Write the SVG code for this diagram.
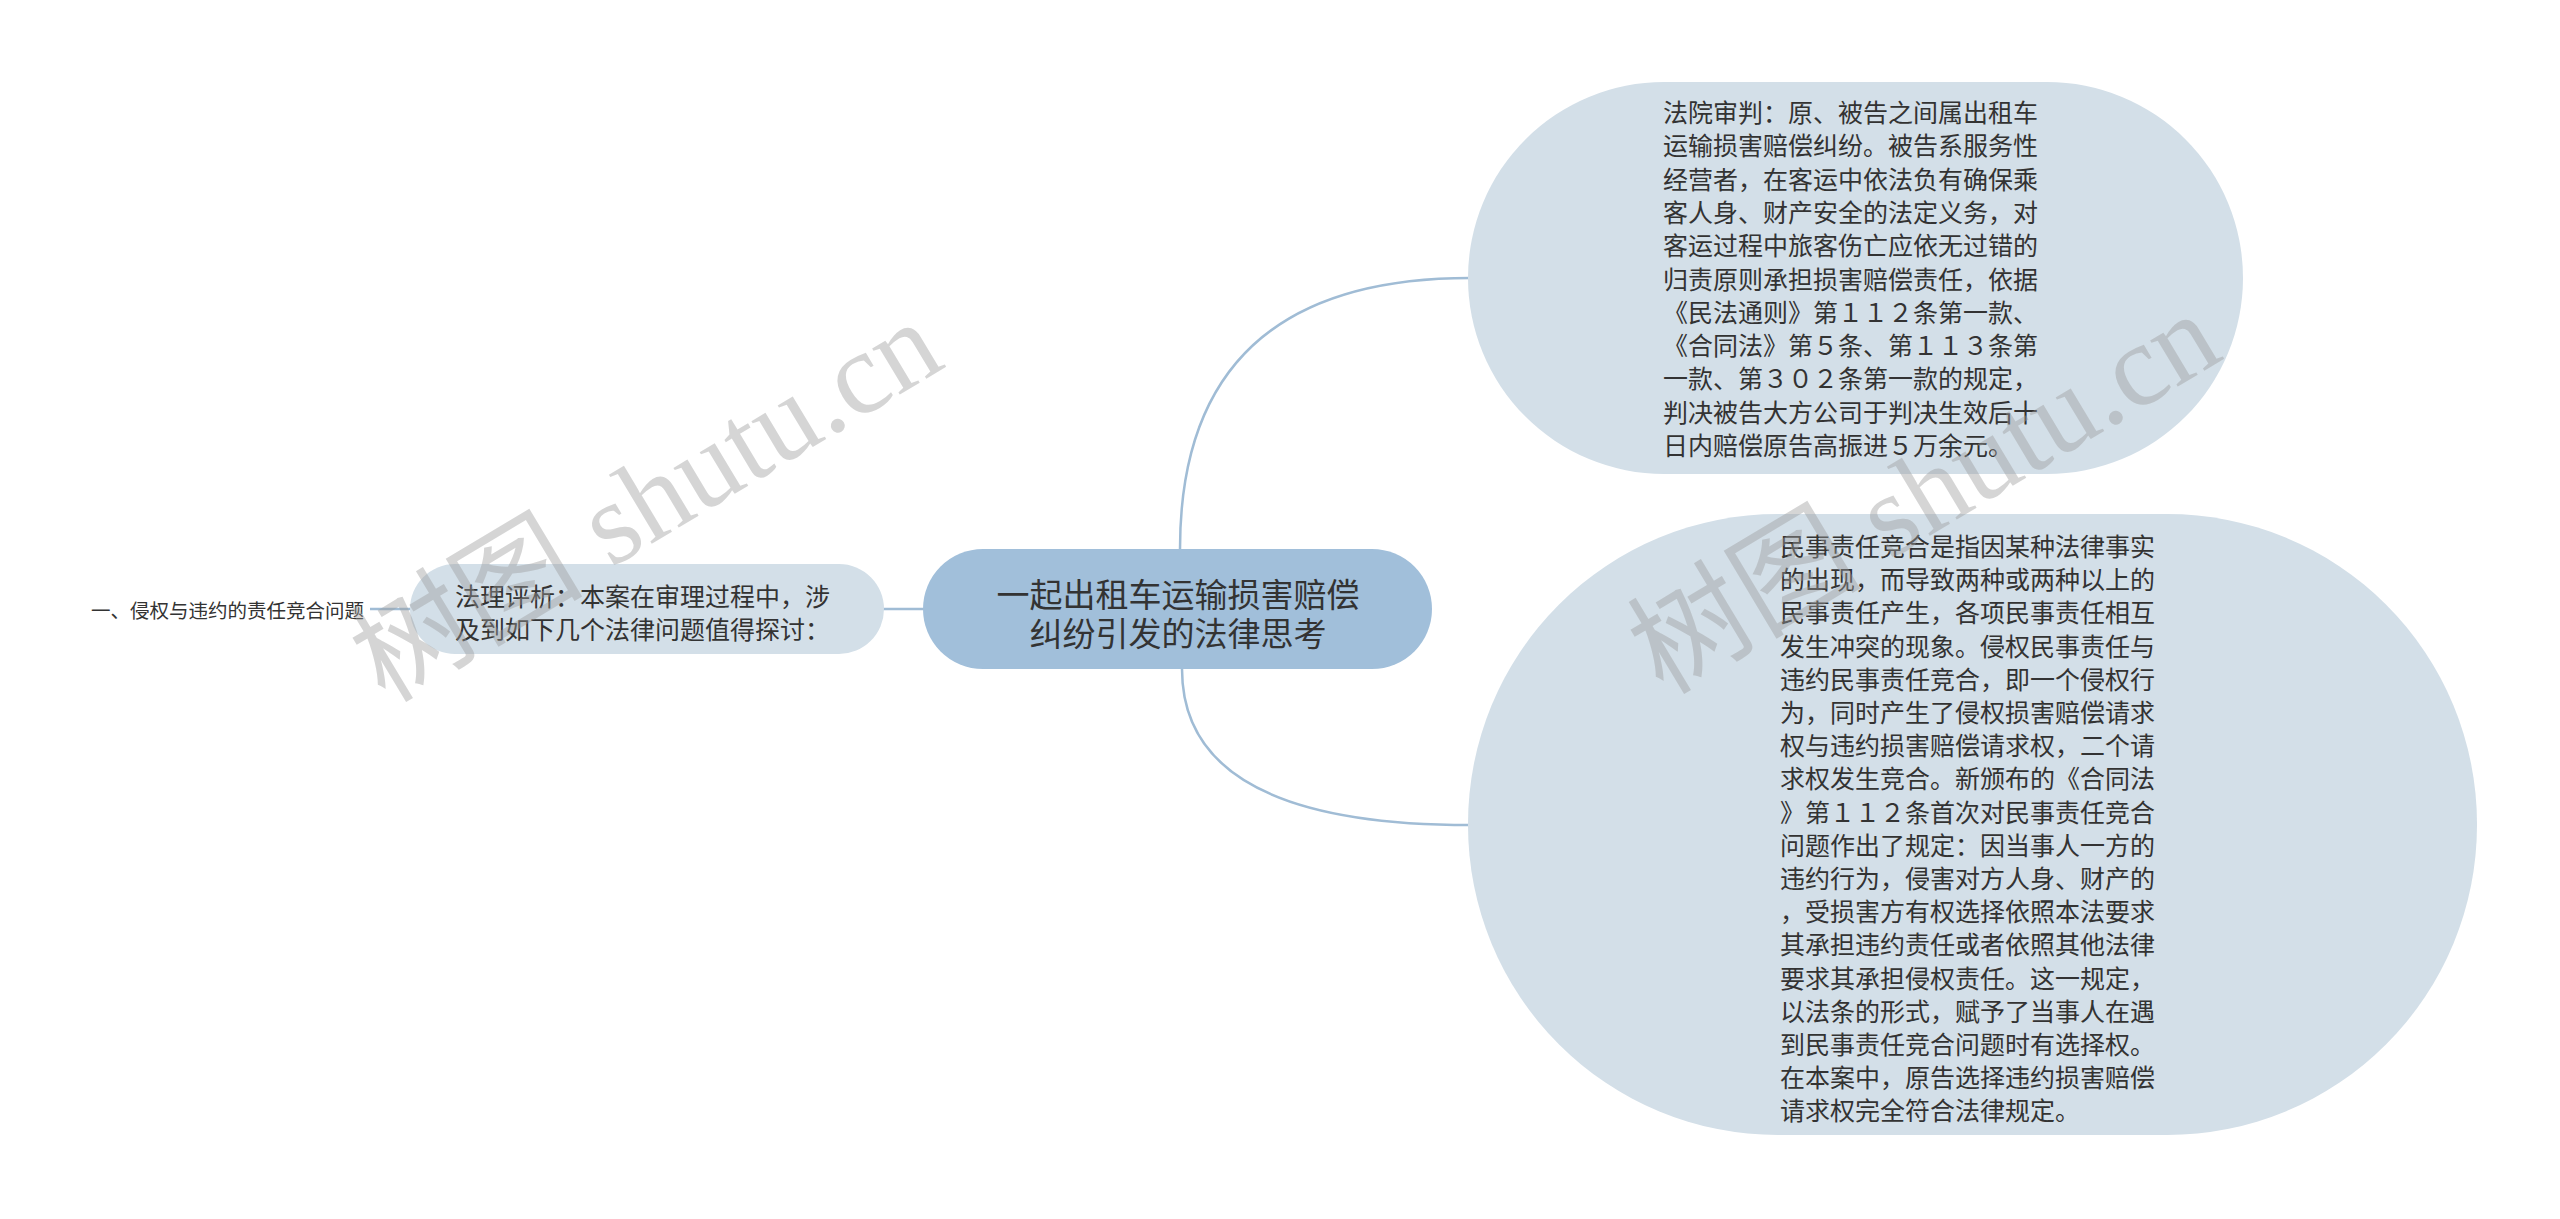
<svg xmlns="http://www.w3.org/2000/svg" width="2560" height="1219" viewBox="0 0 2560 1219">
<style>
.conn{fill:none;stroke:#a0bcd5;stroke-width:2.5}
.main{fill:#a1bfda}
.sub{fill:#d3dfe8}
.t{font-family:"Noto Sans CJK SC","Noto Sans",sans-serif;fill:#333;dominant-baseline:central}
.t25{font-size:25px}
.t33{font-size:33px}
.leaf{font-size:19.5px}
.wm{font-family:"Liberation Serif","Noto Sans CJK SC",serif;font-size:117px;fill:#9a9a9a;fill-opacity:0.42}
</style>
<rect width="2560" height="1219" fill="#ffffff"/>
<g id="connectors">
<path class="conn" d="M1180 549 Q1180 278 1470 278"/>
<path class="conn" d="M1182 669 Q1182 825 1470 825"/>
<path class="conn" d="M880 609 L930 609"/>
<path class="conn" d="M370 609 L414 609"/>
</g>
<g id="node-center">
<rect class="main" x="923" y="549" width="509" height="120" rx="60" ry="60"/>
<text class="t t33" text-anchor="middle" x="1178"><tspan x="1178" y="593">一起出租车运输损害赔偿</tspan><tspan x="1178" y="632">纠纷引发的法律思考</tspan></text>
</g>
<g id="node-top-right">
<rect class="sub" x="1468" y="82" width="775" height="392" rx="196" ry="196"/>
<text class="t t25"><tspan x="1663" y="111">法院审判：原、被告之间属出租车</tspan><tspan x="1663" y="144.3">运输损害赔偿纠纷。被告系服务性</tspan><tspan x="1663" y="177.6">经营者，在客运中依法负有确保乘</tspan><tspan x="1663" y="210.9">客人身、财产安全的法定义务，对</tspan><tspan x="1663" y="244.2">客运过程中旅客伤亡应依无过错的</tspan><tspan x="1663" y="277.5">归责原则承担损害赔偿责任，依据</tspan><tspan x="1663" y="310.8">《民法通则》第１１２条第一款、</tspan><tspan x="1663" y="344.1">《合同法》第５条、第１１３条第</tspan><tspan x="1663" y="377.4">一款、第３０２条第一款的规定，</tspan><tspan x="1663" y="410.7">判决被告大方公司于判决生效后十</tspan><tspan x="1663" y="444">日内赔偿原告高振进５万余元。</tspan></text>
</g>
<g id="node-bottom-right">
<rect class="sub" x="1468" y="514" width="1009" height="621" rx="310" ry="310"/>
<text class="t t25"><tspan x="1780" y="545">民事责任竞合是指因某种法律事实</tspan><tspan x="1780" y="578.2">的出现，而导致两种或两种以上的</tspan><tspan x="1780" y="611.4">民事责任产生，各项民事责任相互</tspan><tspan x="1780" y="644.6">发生冲突的现象。侵权民事责任与</tspan><tspan x="1780" y="677.8">违约民事责任竞合，即一个侵权行</tspan><tspan x="1780" y="711">为，同时产生了侵权损害赔偿请求</tspan><tspan x="1780" y="744.2">权与违约损害赔偿请求权，二个请</tspan><tspan x="1780" y="777.4">求权发生竞合。新颁布的《合同法</tspan><tspan x="1780" y="810.6">》第１１２条首次对民事责任竞合</tspan><tspan x="1780" y="843.8">问题作出了规定：因当事人一方的</tspan><tspan x="1780" y="877">违约行为，侵害对方人身、财产的</tspan><tspan x="1780" y="910.2">，受损害方有权选择依照本法要求</tspan><tspan x="1780" y="943.4">其承担违约责任或者依照其他法律</tspan><tspan x="1780" y="976.6">要求其承担侵权责任。这一规定，</tspan><tspan x="1780" y="1009.8">以法条的形式，赋予了当事人在遇</tspan><tspan x="1780" y="1043">到民事责任竞合问题时有选择权。</tspan><tspan x="1780" y="1076.2">在本案中，原告选择违约损害赔偿</tspan><tspan x="1780" y="1109.4">请求权完全符合法律规定。</tspan></text>
</g>
<g id="node-left">
<rect class="sub" x="410" y="564" width="474" height="90" rx="45" ry="45"/>
<text class="t t25"><tspan x="455" y="595">法理评析：本案在审理过程中，涉</tspan><tspan x="455" y="628">及到如下几个法律问题值得探讨：</tspan></text>
</g>
<g id="node-leaf">
<text class="t leaf" x="91" y="609">一、侵权与违约的责任竞合问题</text>
</g>
<g id="watermarks">
<text class="wm" transform="translate(385 704) rotate(-31)">树图 shutu.cn</text>
<text class="wm" transform="translate(1663 696) rotate(-31)">树图 shutu.cn</text>
</g>
</svg>
